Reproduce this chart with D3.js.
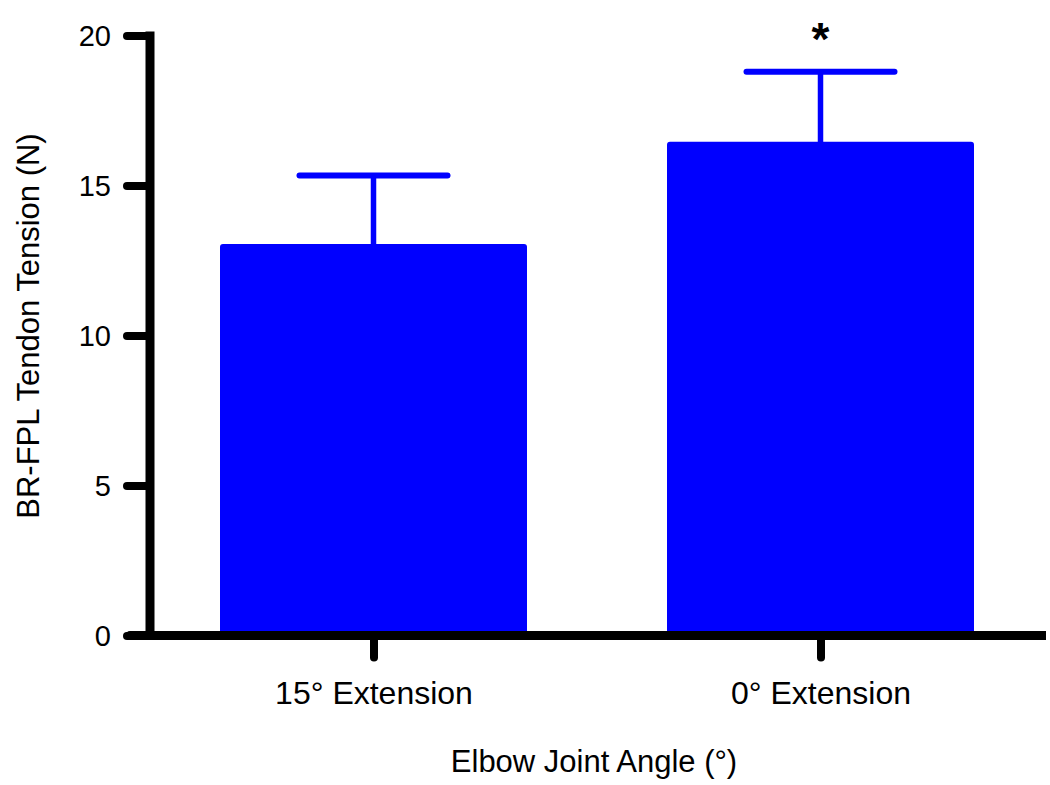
<!DOCTYPE html>
<html><head><meta charset="utf-8">
<script src="https://cdn.jsdelivr.net/npm/d3@7"></script>
<style>body{margin:0;background:#fff}svg text{font-family:"Liberation Sans",Arial,Helvetica,sans-serif;fill:#000}</style>
</head><body>
<svg id="c" width="1050" height="785"></svg>
<script>
const categories = ["15° Extension", "0° Extension"];
const means = [13.05, 16.46];
const errors = [2.28, 2.33];
const significance = ["", "*"];
const yTicks = [0, 5, 10, 15, 20];
const yTitle = "BR-FPL Tendon Tension (N)";
const xTitle = "Elbow Joint Angle (°)";

const svg = d3.select("#c");
const y = d3.scaleLinear().domain([0, 20]).range([635.5, 35.5]);
const x = d3.scalePoint().domain(categories).range([150, 1044]).padding(0.5);
const barW = 307, capW = 154;

// bars
svg.selectAll("rect.bar").data(categories).join("rect")
  .attr("x", d => x(d) - barW/2)
  .attr("y", (d,i) => y(means[i]))
  .attr("width", barW)
  .attr("height", (d,i) => y(0) - y(means[i]))
  .attr("rx", 3)
  .attr("fill", "#0000ff");

// error bars
const eb = svg.selectAll("g.eb").data(categories).join("g");
eb.append("line")
  .attr("x1", d => x(d)).attr("x2", d => x(d))
  .attr("y1", (d,i) => y(means[i]) + 2)
  .attr("y2", (d,i) => y(means[i] + errors[i]))
  .attr("stroke", "#0000ff").attr("stroke-width", 5.5);
eb.append("line")
  .attr("x1", d => x(d) - capW/2 + 3).attr("x2", d => x(d) + capW/2 - 3)
  .attr("y1", (d,i) => y(means[i] + errors[i]))
  .attr("y2", (d,i) => y(means[i] + errors[i]))
  .attr("stroke", "#0000ff").attr("stroke-width", 6).attr("stroke-linecap", "round");

// significance
svg.selectAll("text.sig").data(categories).join("text")
  .attr("x", d => x(d)).attr("y", 55)
  .attr("text-anchor", "middle")
  .style("font-size", "46px").style("font-weight", "bold")
  .text((d,i) => significance[i]);

// y axis
const yAxis = d3.axisLeft(y).tickValues(yTicks).tickSize(23).tickPadding(16);
const gy = svg.append("g").attr("transform", "translate(150,0)").call(yAxis);
gy.select(".domain").remove();
gy.selectAll(".tick line").attr("stroke", "#000").attr("stroke-width", 8).attr("stroke-linecap", "round");
gy.selectAll(".tick text").style("font-size", "29px").attr("dy", "0.35em").style("fill", "#000");
svg.append("line").attr("x1", 150).attr("x2", 150).attr("y1", y(20) - 4).attr("y2", y(0) + 4.5)
  .attr("stroke", "#000").attr("stroke-width", 9);

// x axis
const xAxis = d3.axisBottom(x).tickSize(22).tickPadding(24);
const gx = svg.append("g").attr("transform", `translate(0,${y(0)})`).call(xAxis);
gx.select(".domain").remove();
gx.selectAll(".tick line").attr("stroke", "#000").attr("stroke-width", 8).attr("stroke-linecap", "round");
gx.selectAll(".tick text").style("font-size", "32px").style("fill", "#000");
svg.append("line").attr("x1", 130).attr("x2", 1046).attr("y1", y(0)).attr("y2", y(0))
  .attr("stroke", "#000").attr("stroke-width", 9);
svg.append("circle").attr("cx", 130).attr("cy", y(0)).attr("r", 4.5).attr("fill", "#000");

// titles
svg.append("text").attr("x", 594).attr("y", 772).attr("text-anchor", "middle")
  .style("font-size", "31px").text(xTitle);
svg.append("text").attr("transform", "translate(39,326) rotate(-90)").attr("text-anchor", "middle")
  .style("font-size", "31px").text(yTitle);
</script>
</body></html>
